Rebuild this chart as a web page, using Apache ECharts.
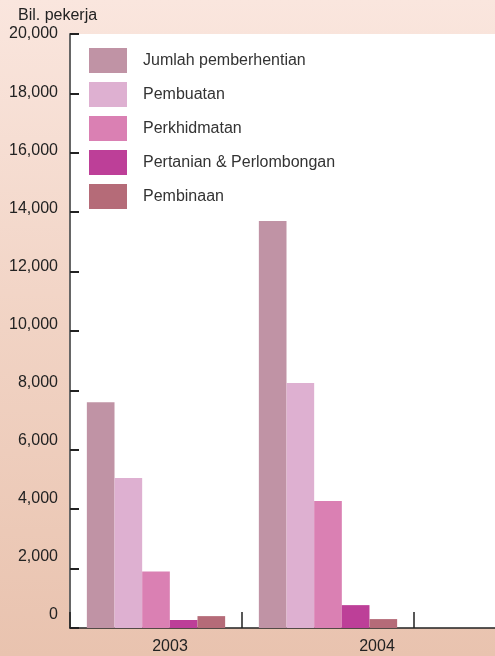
<!DOCTYPE html>
<html>
<head>
<meta charset="utf-8">
<script src="https://cdn.jsdelivr.net/npm/echarts@6/dist/echarts.min.js"></script>
<style>html,body{margin:0;padding:0;}#c{width:495px;height:656px;}</style>
</head>
<body>
<div id="c"></div>
<script>
const categories = ['2003', '2004', ''];
const seriesNames = ['Jumlah pemberhentian', 'Pembuatan', 'Perkhidmatan', 'Pertanian & Perlombongan', 'Pembinaan'];
const jumlah = [7600, 13700];
const pembuatan = [5050, 8250];
const perkhidmatan = [1900, 4280];
const pertanian = [270, 770];
const pembinaan = [400, 300];
const yTicks = [0, 20000, 2000];
const colors = ['#c093a5', '#deb0d1', '#da80b3', '#bd3f98', '#b56b78'];

const values = [jumlah, pembuatan, perkhidmatan, pertanian, pembinaan];
const labelShift = [28, 98, 0];
const font = 'Liberation Sans, Arial, Helvetica, sans-serif';

const chart = echarts.init(document.getElementById('c'));
chart.setOption({
  backgroundColor: {type: 'linear', x: 0, y: 0, x2: 0, y2: 1,
    colorStops: [{offset: 0, color: '#fae6de'}, {offset: 0.5, color: '#f1d3c4'}, {offset: 1, color: '#e9c3af'}]},
  animation: false,
  textStyle: {fontFamily: font},
  grid: [
    {left: 70, top: 34, width: 516, height: 594, show: true, backgroundColor: '#ffffff', borderWidth: 0, outerBoundsMode: 'none', containLabel: false},
    {left: 70, top: 34, width: 516, height: 581, show: false, outerBoundsMode: 'none', containLabel: false}
  ],
  legend: {
    orient: 'vertical', left: 84, top: 43, itemWidth: 38, itemHeight: 25, itemGap: 9,
    icon: 'rect',
    textStyle: {fontSize: 16, color: '#333', fontFamily: font, padding: [0, 0, 0, 11]},
    data: seriesNames
  },
  xAxis: [
    {
      type: 'category', gridIndex: 0,
      data: categories.map((c, i) => ({value: c, textStyle: {padding: [0, 0, 0, labelShift[i]]}})),
      axisLine: {lineStyle: {color: '#222', width: 1.5}},
      axisTick: {show: true, inside: true, length: 16, lineStyle: {color: '#222', width: 1.5}},
      axisLabel: {fontSize: 16, color: '#222', margin: 11, fontFamily: font}
    },
    {type: 'category', gridIndex: 1, data: categories, show: false}
  ],
  yAxis: [
    {
      type: 'value', gridIndex: 0, name: 'Bil. pekerja',
      nameLocation: 'end', nameGap: 10,
      nameTextStyle: {fontSize: 16, color: '#222', align: 'left', padding: [0, 0, 0, -52], fontFamily: font},
      min: yTicks[0], max: yTicks[1], interval: yTicks[2],
      axisLine: {show: true, lineStyle: {color: '#666', width: 2}},
      axisTick: {show: true, inside: true, length: 9, lineStyle: {color: '#222', width: 2}},
      axisLabel: {show: false},
      splitLine: {show: false}
    },
    {
      type: 'value', gridIndex: 1,
      min: yTicks[0], max: yTicks[1], interval: yTicks[2],
      axisLine: {show: false}, axisTick: {show: false}, splitLine: {show: false},
      axisLabel: {fontSize: 16, color: '#222', margin: 12, fontFamily: font,
        formatter: v => v.toLocaleString('en-US')}
    }
  ],
  series: seriesNames.map((n, i) => ({
    name: n, type: 'bar', xAxisIndex: 0, yAxisIndex: 0,
    data: values[i],
    itemStyle: {color: colors[i]},
    barGap: '0%', barCategoryGap: '19.6%'
  }))
});
</script>
</body>
</html>
